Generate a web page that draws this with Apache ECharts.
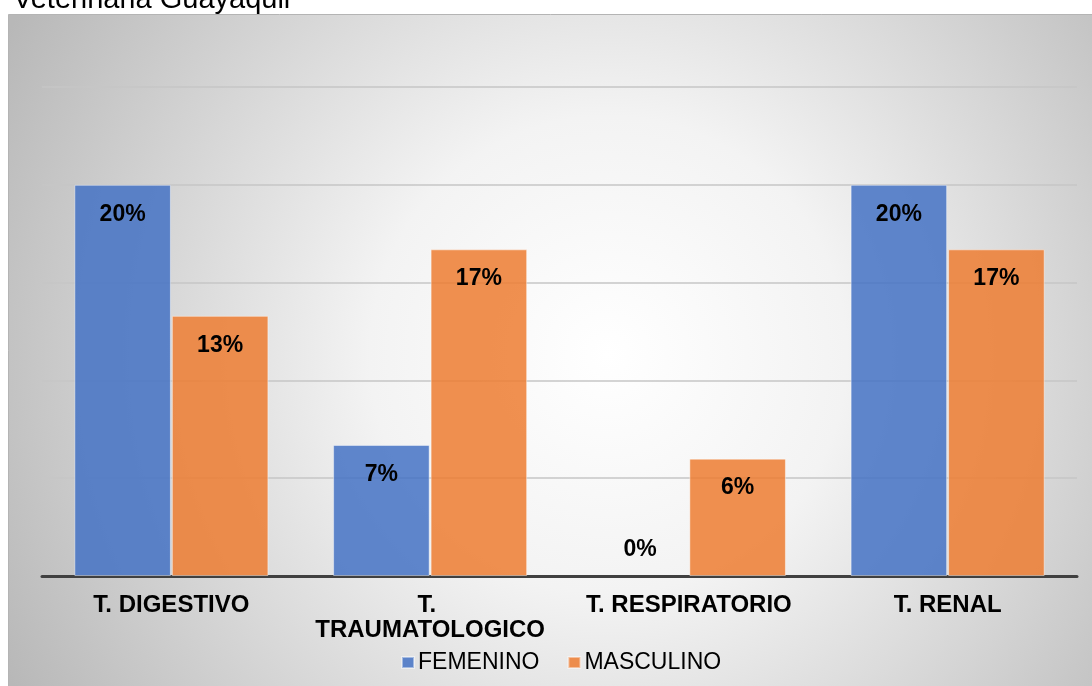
<!DOCTYPE html>
<html>
<head>
<meta charset="utf-8">
<script src="https://cdn.jsdelivr.net/npm/echarts@6/dist/echarts.min.js"></script>
<style>
  html, body { margin: 0; padding: 0; background: #fff; }
  #main { width: 1092px; height: 686px; }
</style>
</head>
<body>
<div id="main"></div>
<script>
// datos
const categorias = ['T. DIGESTIVO', 'T. TRAUMATOLOGICO', 'T. RESPIRATORIO', 'T. RENAL'];
const femenino = [0.20, 0.067, 0, 0.20];
const masculino = [0.133, 0.167, 0.06, 0.167];
const series_nombres = ['FEMENINO', 'MASCULINO'];

const pct = p => Math.round(p.value * 100) + '%';

// la etiqueta de un valor 0 va encima del eje, como en Excel
function barData(vals) {
  return vals.map(v => v === 0
    ? { value: v, itemStyle: { borderWidth: 0 }, label: { position: 'top', distance: 15 } }
    : v);
}

const labelStyle = {
  show: true,
  position: 'insideTop',
  distance: 18,
  formatter: pct,
  color: '#000',
  fontSize: 23,
  fontWeight: 'bold',
  fontFamily: 'Liberation Sans, Arial, sans-serif'
};

const chart = echarts.init(document.getElementById('main'));
chart.setOption({
  animation: false,
  textStyle: { fontFamily: 'Liberation Sans, Arial, sans-serif' },
  graphic: [
    {
      type: 'rect',
      z: -10,
      silent: true,
      shape: { x: 8.5, y: 14.5, width: 1090, height: 680 },
      style: {
        fill: new echarts.graphic.RadialGradient(0.55, 0.5, 1.0, [
          { offset: 0, color: '#ffffff' },
          { offset: 0.35, color: '#f3f3f3' },
          { offset: 1, color: '#b8b8b8' }
        ]),
        stroke: '#b4b4b4',
        lineWidth: 1
      }
    },
    {
      type: 'text',
      left: 13,
      top: -15,
      style: {
        text: 'Veterinaria Guayaquil',
        fill: '#000',
        font: '29px Liberation Sans, Arial, sans-serif'
      }
    }
  ],
  grid: { left: 42, right: 15, top: 87, bottom: 110 },
  legend: {
    data: series_nombres,
    left: 396,
    top: 646,
    icon: 'rect',
    itemWidth: 12,
    itemHeight: 11,
    itemGap: 28,
    textStyle: { fontSize: 23, color: '#000', padding: [0, 0, 0, -1] }
  },
  xAxis: {
    type: 'category',
    data: categorias,
    axisTick: { show: false },
    axisLine: { lineStyle: { color: '#404040', width: 3 } },
    axisLabel: {
      color: '#000',
      fontSize: 24,
      fontWeight: 'bold',
      margin: 17,
      lineHeight: 25,
      width: 240,
      overflow: 'break',
      interval: 0
    }
  },
  yAxis: {
    type: 'value',
    min: 0,
    max: 0.25,
    interval: 0.05,
    axisLabel: { show: false },
    axisLine: { show: false },
    axisTick: { show: false },
    splitLine: { lineStyle: { color: '#c6c6c6', width: 1.5 } }
  },
  series: [
    {
      name: series_nombres[0],
      type: 'bar',
      data: barData(femenino),
      barGap: '1%',
      barCategoryGap: '25%',
      itemStyle: { color: 'rgba(68,114,196,0.85)', borderColor: 'rgba(255,255,255,0.45)', borderWidth: 1 },
      label: labelStyle
    },
    {
      name: series_nombres[1],
      type: 'bar',
      data: barData(masculino),
      itemStyle: { color: 'rgba(237,125,49,0.85)', borderColor: 'rgba(255,255,255,0.45)', borderWidth: 1 },
      label: labelStyle
    }
  ]
});
window.addEventListener('resize', () => { chart.resize(); });
</script>
</body>
</html>
